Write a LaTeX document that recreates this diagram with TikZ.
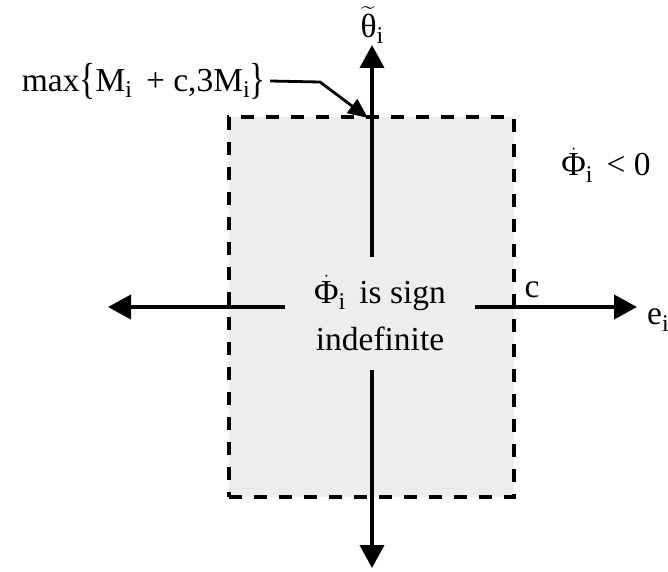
\documentclass[tikz,border=0pt]{standalone}
\usepackage{amsmath}
\usepackage{graphicx}
\usepackage{fontspec}
\setmainfont{Liberation Serif}
\usetikzlibrary{arrows.meta, positioning}
\newcommand{\sub}[1]{\raisebox{-0.42ex}{\fontsize{24}{24}\selectfont #1}}
\newcommand{\Phidot}{$\dot{\text{Φ}}$}
\newcommand{\tallbrace}[1]{\raisebox{-0.12ex}{\scalebox{1}[1.3]{#1}}}

\begin{document}
\begin{tikzpicture}[x=1pt, y=1pt, font=\fontsize{33.5}{47}\selectfont,
  region/.style={draw, dashed, dash pattern=on 13pt off 12pt, line width=4.4pt, fill=gray!14, minimum width=285pt, minimum height=380pt, inner sep=0pt},
  axis/.style={-{Triangle[length=23pt, width=24pt]}, line width=4pt},
  pointer/.style={-{Triangle[length=20pt, width=17pt]}, line width=2.8pt},
  lbl/.style={inner sep=0pt}]

\useasboundingbox (0,0) rectangle (668,571);

\node[region] (box) at (371.5,264) {};
\coordinate (origin) at (372,264);
\coordinate (xleft) at (108,264);
\coordinate (xright) at (637,264);
\coordinate (ytop) at (372,526);
\coordinate (ybottom) at (372,3);

\draw[axis] (origin) -- (xleft);
\draw[axis] (origin) -- (xright);
\draw[axis] (origin) -- (ytop);
\draw[axis] (origin) -- (ybottom);

\node[fill=gray!14, align=center, minimum width=190pt, minimum height=113pt] (sign) at (380,258) {\Phidot\sub{i}\, is sign\\indefinite};

% labels round the axes
\node[lbl, above=1pt of ytop] (theta) {$\widetilde{\text{θ}}$\sub{i}};
\node[lbl, anchor=west] (ei) at (647,251) {e\sub{i}};
\node[lbl] (c) at (532,281) {c};
\node[lbl] (neg) at (606,406) {\Phidot\sub{i}\, < 0};

\node[lbl, anchor=east] (maxlbl) at (266,490) {max\tallbrace{\{}M\sub{i}\, + c,3M\sub{i}\tallbrace{\}}};
\coordinate (bend) at (320,489);
\coordinate (maxtip) at (368,453);
\draw[pointer] (maxlbl.east) ++(4pt,0) -- (bend) -- (maxtip);

\end{tikzpicture}
\end{document}
